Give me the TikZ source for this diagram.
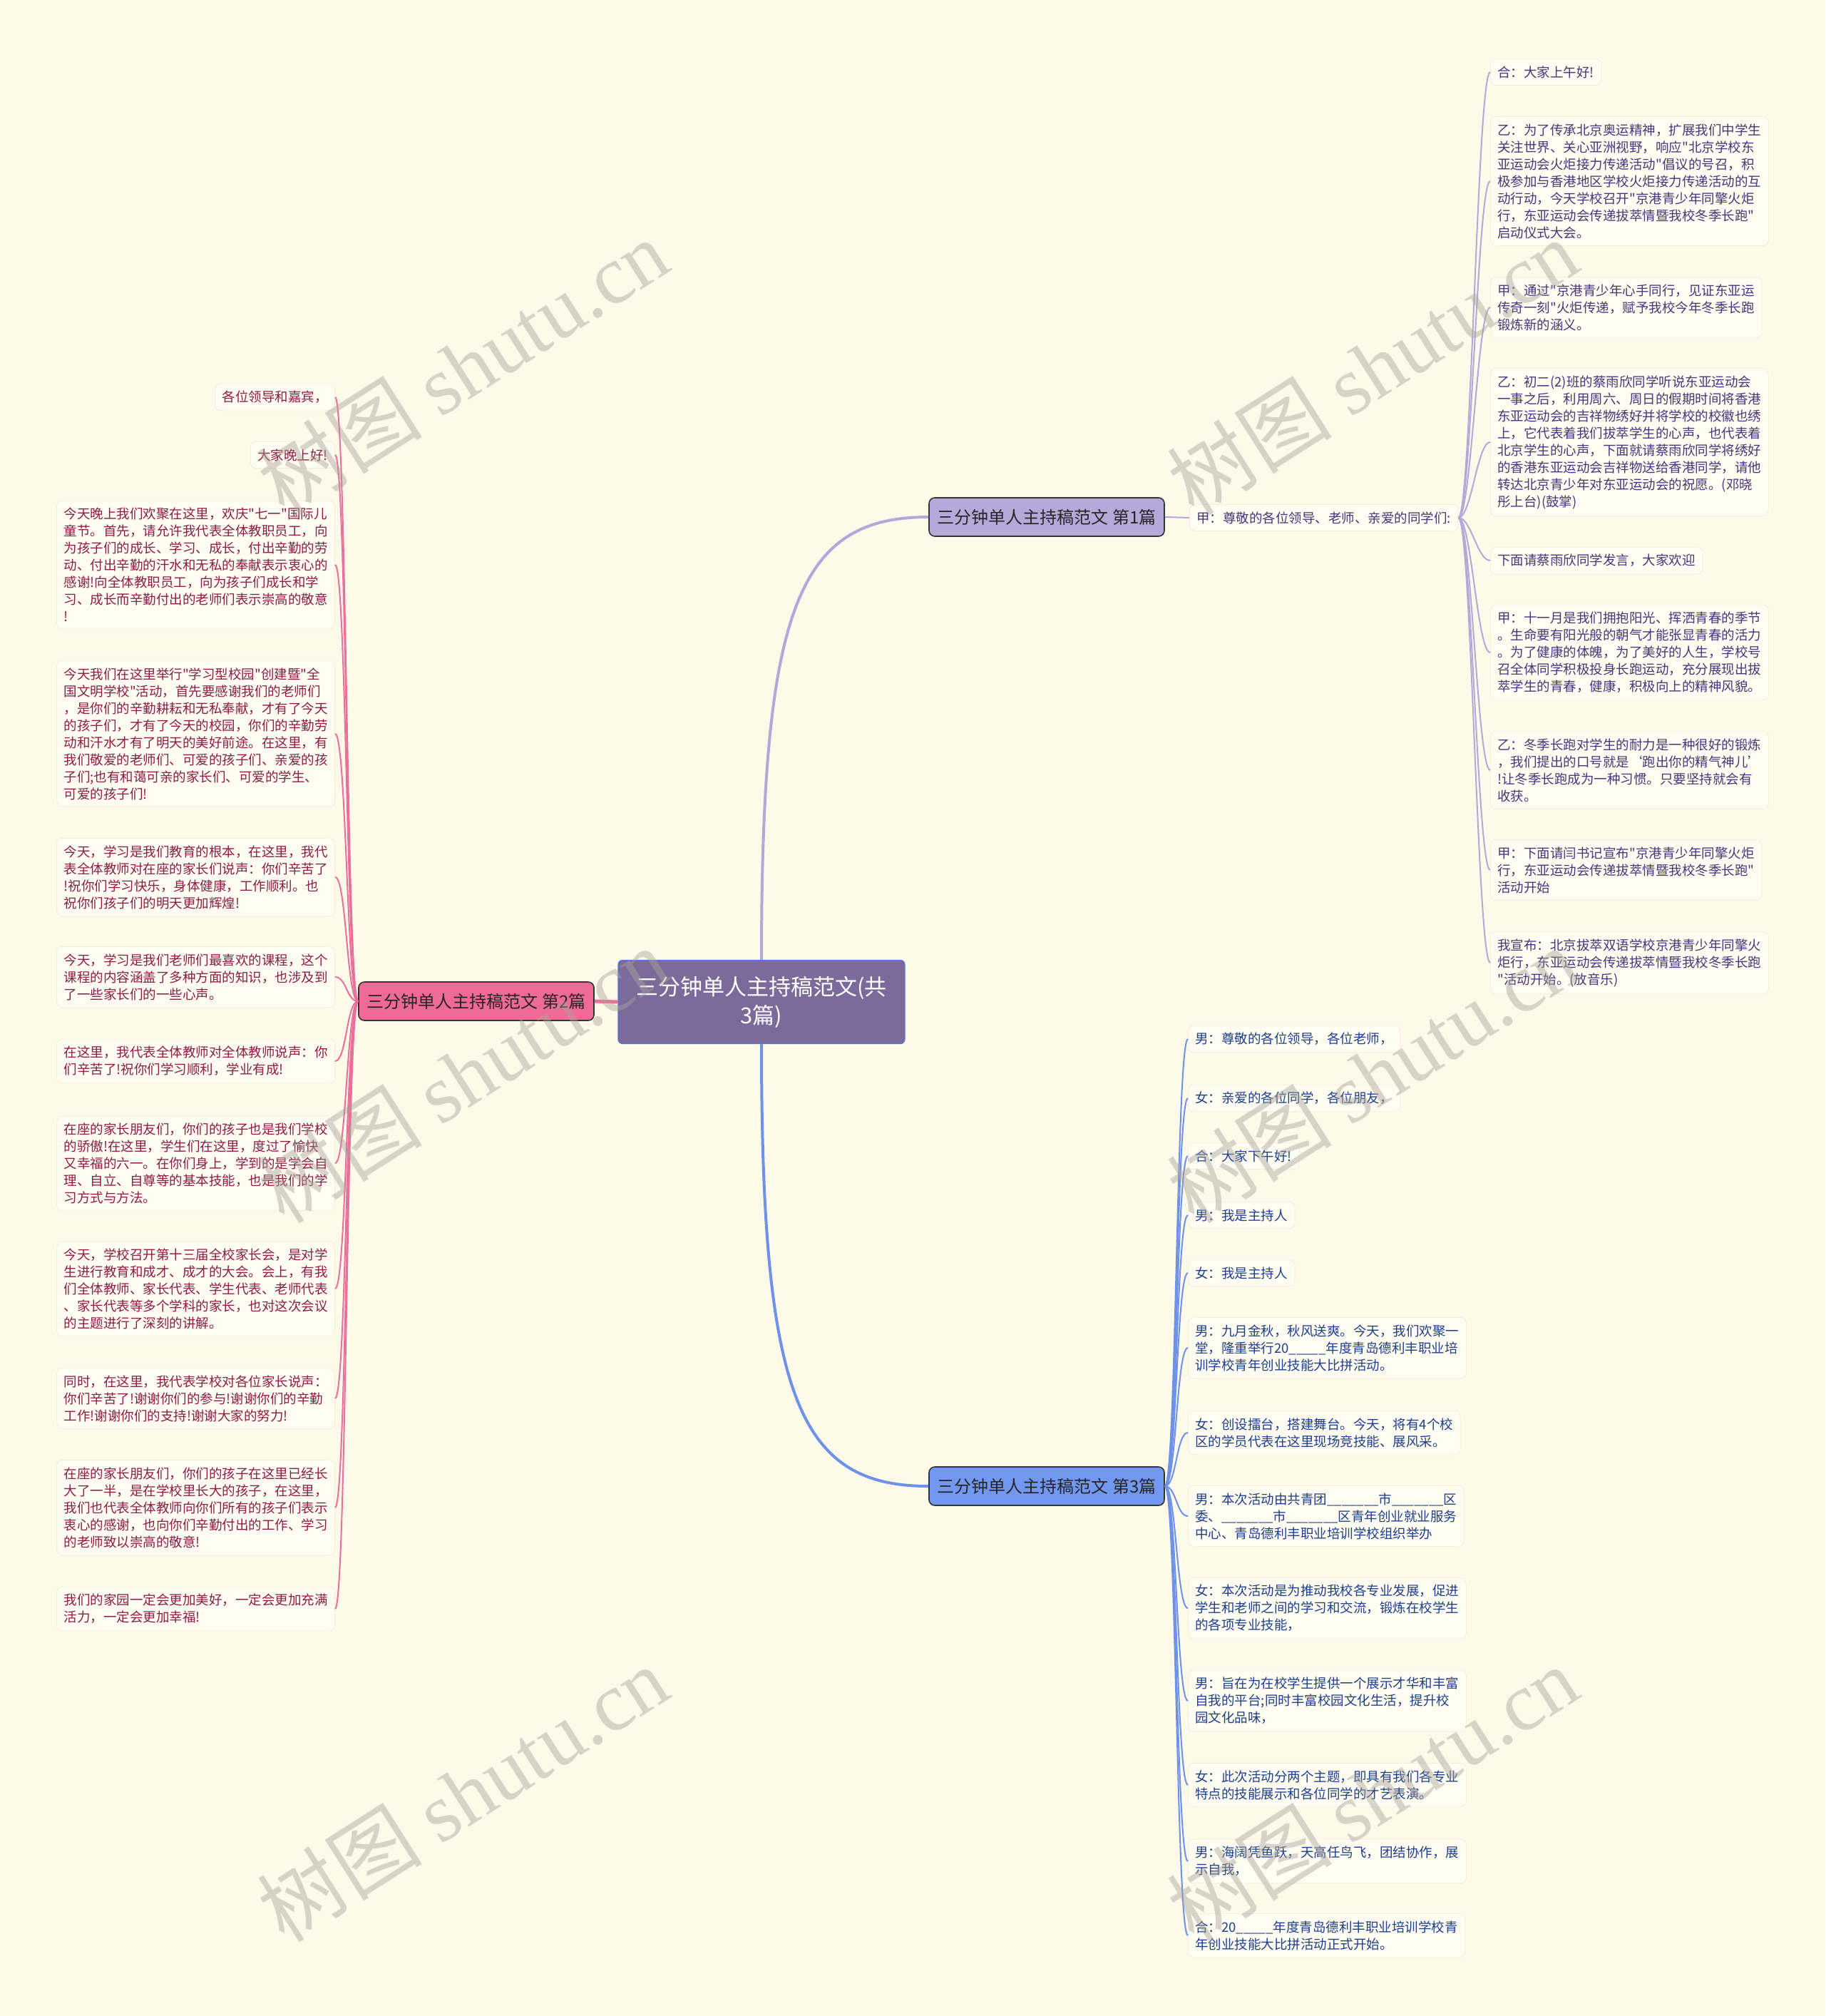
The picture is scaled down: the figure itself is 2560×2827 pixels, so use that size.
\documentclass[tikz,border=0pt]{standalone}
\usepackage{fontspec}
\setmainfont{Noto Sans CJK SC}[Ligatures=TeXOff]
\newfontfamily\wmserif{Liberation Serif}
\usetikzlibrary{calc}
\definecolor{bg}{HTML}{FEFAEA}
\definecolor{leaffill}{HTML}{FFFCF1}
\definecolor{leafborder}{HTML}{F4EEDA}
\definecolor{mainfill}{HTML}{7B6A9A}
\definecolor{mainborder}{HTML}{4E7BD8}
\definecolor{bonefill}{HTML}{B7A8DA}
\definecolor{btwofill}{HTML}{EF6A97}
\definecolor{bthreefill}{HTML}{7398F1}
\definecolor{pline}{HTML}{B5A8D8}
\definecolor{kline}{HTML}{E8709A}
\definecolor{bline}{HTML}{6D92E8}
\definecolor{ptext}{HTML}{4A3578}
\definecolor{ktext}{HTML}{8C1D46}
\definecolor{btext}{HTML}{1E3F8A}
\definecolor{wmcol}{HTML}{A9A499}
\tikzset{
  leafbox/.style={draw=leafborder, fill=leaffill, rounded corners=4pt, line width=0.4pt,
    inner xsep=5pt, inner ysep=5pt, align=left, font=\fontsize{9.25pt}{12pt}\selectfont},
  pleaf/.style={leafbox, text=ptext, anchor=west},
  kleaf/.style={leafbox, text=ktext, anchor=east},
  bleaf/.style={leafbox, text=btext, anchor=west},
  branchbox/.style={draw={black!80}, line width=0.8pt, rounded corners=4pt, minimum width=165pt,
    minimum height=27pt, inner sep=2pt, text={black!85}, font=\fontsize{12pt}{14pt}\selectfont},
  mainbox/.style={draw=mainborder, fill=mainfill, line width=0.6pt, rounded corners=3pt,
    minimum width=201pt, minimum height=58.5pt, align=center, text=white,
    font=\fontsize{15.5pt}{20pt}\selectfont},
  pedge/.style={draw=pline, line width=1pt},
  kedge/.style={draw=kline, line width=1pt},
  bedge/.style={draw=bline, line width=1pt},
  wm/.style={text=wmcol, text opacity=0.45, font=\fontsize{58pt}{60pt}\selectfont, rotate=32.5}
}
\begin{document}
\begin{tikzpicture}[x=0.5pt,y=-0.5pt]
\fill[bg] (0,0) rectangle (2560,2827);
\useasboundingbox (0,0) rectangle (2560,2827);

% main and branches
\node[mainbox] (main) at (1068,1405) {三分钟单人主持稿范文(共\\3篇)};
\node[branchbox, fill=bonefill] (b1) at (1468,725) {三分钟单人主持稿范文 第1篇};
\node[branchbox, fill=btwofill] (b2) at (668,1404) {三分钟单人主持稿范文 第2篇};
\node[branchbox, fill=bthreefill] (b3) at (1468,2084) {三分钟单人主持稿范文 第3篇};

\draw[draw=pline, line width=2pt] (main.north) .. controls (1068,850) and (1120,725) .. (b1.west);
\draw[draw=bline, line width=2pt] (main.south) .. controls (1068,1960) and (1120,2084) .. (b3.west);
\draw[draw=kline, line width=2.5pt] (main.west) -- (b2.east);

% branch 1
\node[pleaf] (jia) at (1668,726) {甲：尊敬的各位领导、老师、亲爱的同学们:};
\draw[pedge] (b1.east) -- (jia.west);

\node[pleaf] (p1) at (2090,101) {合：大家上午好!};
\node[pleaf] (p2) at (2090,254) {乙：为了传承北京奥运精神，扩展我们中学生\\关注世界、关心亚洲视野，响应"北京学校东\\亚运动会火炬接力传递活动"倡议的号召，积\\极参加与香港地区学校火炬接力传递活动的互\\动行动，今天学校召开"京港青少年同擎火炬\\行，东亚运动会传递拔萃情暨我校冬季长跑"\\启动仪式大会。};
\node[pleaf] (p3) at (2090,431) {甲：通过"京港青少年心手同行，见证东亚运\\传奇一刻"火炬传递，赋予我校今年冬季长跑\\锻炼新的涵义。};
\node[pleaf] (p4) at (2090,620) {乙：初二(2)班的蔡雨欣同学听说东亚运动会\\一事之后，利用周六、周日的假期时间将香港\\东亚运动会的吉祥物绣好并将学校的校徽也绣\\上，它代表着我们拔萃学生的心声，也代表着\\北京学生的心声，下面就请蔡雨欣同学将绣好\\的香港东亚运动会吉祥物送给香港同学，请他\\转达北京青少年对东亚运动会的祝愿。(邓晓\\彤上台)(鼓掌)};
\node[pleaf] (p5) at (2090,786) {下面请蔡雨欣同学发言，大家欢迎};
\node[pleaf] (p6) at (2090,915) {甲：十一月是我们拥抱阳光、挥洒青春的季节\\。生命要有阳光般的朝气才能张显青春的活力\\。为了健康的体魄，为了美好的人生，学校号\\召全体同学积极投身长跑运动，充分展现出拔\\萃学生的青春，健康，积极向上的精神风貌。};
\node[pleaf] (p7) at (2090,1080) {乙：冬季长跑对学生的耐力是一种很好的锻炼\\，我们提出的口号就是‘跑出你的精气神儿’\\!让冬季长跑成为一种习惯。只要坚持就会有\\收获。};
\node[pleaf] (p8) at (2090,1220) {甲：下面请闫书记宣布"京港青少年同擎火炬\\行，东亚运动会传递拔萃情暨我校冬季长跑"\\活动开始};
\node[pleaf] (p9) at (2090,1350) {我宣布：北京拔萃双语学校京港青少年同擎火\\炬行，东亚运动会传递拔萃情暨我校冬季长跑\\"活动开始。(放音乐)};
\foreach \i in {1,...,9}
  \draw[pedge] (jia.east) .. controls ([xshift=9pt]jia.east) and ([xshift=-9pt]p\i.west) .. (p\i.west);

% branch 2
\node[kleaf] (k1) at (470,557) {各位领导和嘉宾，};
\node[kleaf] (k2) at (470,638) {大家晚上好!};
\node[kleaf] (k3) at (470,792) {今天晚上我们欢聚在这里，欢庆"七一"国际儿\\童节。首先，请允许我代表全体教职员工，向\\为孩子们的成长、学习、成长，付出辛勤的劳\\动、付出辛勤的汗水和无私的奉献表示衷心的\\感谢!向全体教职员工，向为孩子们成长和学\\习、成长而辛勤付出的老师们表示崇高的敬意\\!};
\node[kleaf] (k4) at (470,1029) {今天我们在这里举行"学习型校园"创建暨"全\\国文明学校"活动，首先要感谢我们的老师们\\，是你们的辛勤耕耘和无私奉献，才有了今天\\的孩子们，才有了今天的校园，你们的辛勤劳\\动和汗水才有了明天的美好前途。在这里，有\\我们敬爱的老师们、可爱的孩子们、亲爱的孩\\子们;也有和蔼可亲的家长们、可爱的学生、\\可爱的孩子们!};
\node[kleaf] (k5) at (470,1230) {今天，学习是我们教育的根本，在这里，我代\\表全体教师对在座的家长们说声：你们辛苦了\\!祝你们学习快乐，身体健康，工作顺利。也\\祝你们孩子们的明天更加辉煌!};
\node[kleaf] (k6) at (470,1370) {今天，学习是我们老师们最喜欢的课程，这个\\课程的内容涵盖了多种方面的知识，也涉及到\\了一些家长们的一些心声。};
\node[kleaf] (k7) at (470,1488) {在这里，我代表全体教师对全体教师说声：你\\们辛苦了!祝你们学习顺利，学业有成!};
\node[kleaf] (k8) at (470,1631) {在座的家长朋友们，你们的孩子也是我们学校\\的骄傲!在这里，学生们在这里，度过了愉快\\又幸福的六一。在你们身上，学到的是学会自\\理、自立、自尊等的基本技能，也是我们的学\\习方式与方法。};
\node[kleaf] (k9) at (470,1807) {今天，学校召开第十三届全校家长会，是对学\\生进行教育和成才、成才的大会。会上，有我\\们全体教师、家长代表、学生代表、老师代表\\、家长代表等多个学科的家长，也对这次会议\\的主题进行了深刻的讲解。};
\node[kleaf] (k10) at (470,1961) {同时，在这里，我代表学校对各位家长说声：\\你们辛苦了!谢谢你们的参与!谢谢你们的辛勤\\工作!谢谢你们的支持!谢谢大家的努力!};
\node[kleaf] (k11) at (470,2114) {在座的家长朋友们，你们的孩子在这里已经长\\大了一半，是在学校里长大的孩子，在这里，\\我们也代表全体教师向你们所有的孩子们表示\\衷心的感谢，也向你们辛勤付出的工作、学习\\的老师致以崇高的敬意!};
\node[kleaf] (k12) at (470,2256) {我们的家园一定会更加美好，一定会更加充满\\活力，一定会更加幸福!};
\foreach \i in {1,...,12}
  \draw[kedge] (b2.west) .. controls ([xshift=-8pt]b2.west) and ([xshift=8pt]k\i.east) .. (k\i.east);

% branch 3
\node[bleaf] (q1) at (1666,1457) {男：尊敬的各位领导，各位老师，};
\node[bleaf] (q2) at (1666,1540) {女：亲爱的各位同学，各位朋友，};
\node[bleaf] (q3) at (1666,1621) {合：大家下午好!};
\node[bleaf] (q4) at (1666,1704) {男：我是主持人};
\node[bleaf] (q5) at (1666,1785) {女：我是主持人};
\node[bleaf] (q6) at (1666,1890) {男：九月金秋，秋风送爽。今天，我们欢聚一\\堂，隆重举行20\_\_\_\_\_年度青岛德利丰职业培\\训学校青年创业技能大比拼活动。};
\node[bleaf] (q7) at (1666,2009) {女：创设擂台，搭建舞台。今天，将有4个校\\区的学员代表在这里现场竞技能、展风采。};
\node[bleaf] (q8) at (1666,2126) {男：本次活动由共青团\_\_\_\_\_\_\_市\_\_\_\_\_\_\_区\\委、\_\_\_\_\_\_\_市\_\_\_\_\_\_\_区青年创业就业服务\\中心、青岛德利丰职业培训学校组织举办};
\node[bleaf] (q9) at (1666,2255) {女：本次活动是为推动我校各专业发展，促进\\学生和老师之间的学习和交流，锻炼在校学生\\的各项专业技能，};
\node[bleaf] (q10) at (1666,2385) {男：旨在为在校学生提供一个展示才华和丰富\\自我的平台;同时丰富校园文化生活，提升校\\园文化品味，};
\node[bleaf] (q11) at (1666,2503) {女：此次活动分两个主题，即具有我们各专业\\特点的技能展示和各位同学的才艺表演。};
\node[bleaf] (q12) at (1666,2610) {男：海阔凭鱼跃，天高任鸟飞，团结协作，展\\示自我，};
\node[bleaf] (q13) at (1666,2714) {合：20\_\_\_\_\_年度青岛德利丰职业培训学校青\\年创业技能大比拼活动正式开始。};
\foreach \i in {1,...,13}
  \draw[bedge] (b3.east) .. controls ([xshift=8pt]b3.east) and ([xshift=-8pt]q\i.west) .. (q\i.west);

% watermarks
\foreach \wx/\wy [count=\n] in {649/514, 1925/514, 649/1507, 1925/1507, 649/2515, 1925/2515}
  \node[wm] (wm\n) at (\wx,\wy) {树图 {\wmserif shutu.cn}};
\end{tikzpicture}
\end{document}
